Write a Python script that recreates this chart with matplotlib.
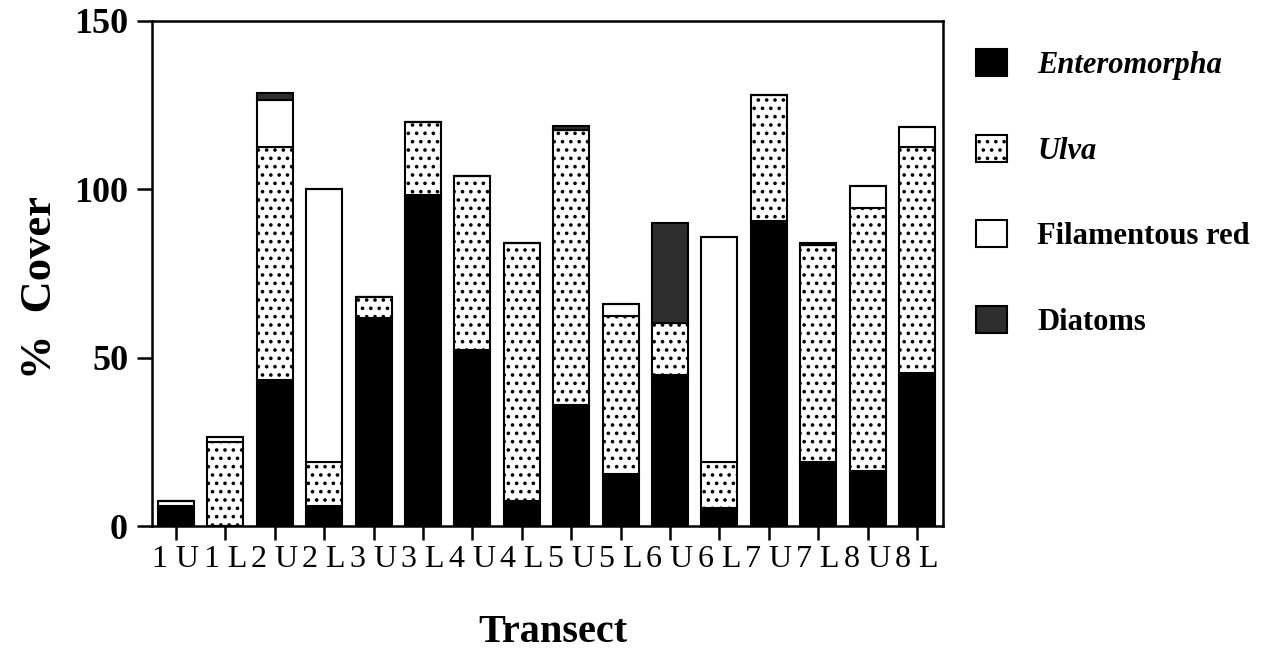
import matplotlib
matplotlib.use("Agg")
import matplotlib.pyplot as plt
import numpy as np

# Data (% cover per transect, stacked)
transects = ["1 U", "1 L", "2 U", "2 L", "3 U", "3 L", "4 U", "4 L",
             "5 U", "5 L", "6 U", "6 L", "7 U", "7 L", "8 U", "8 L"]
enteromorpha = [6, 0, 43.5, 6, 62, 98.5, 52.5, 7.5, 36, 15.5, 45, 5.5, 90.5, 19, 16.5, 45.5]
ulva = [1.5, 25, 69, 13, 6, 21.5, 51.5, 76.5, 81.5, 47, 15.5, 13.5, 37.5, 64.5, 78, 67]
filamentous_red = [0, 1.5, 14, 81, 0, 0, 0, 0, 0, 3.5, 0, 67, 0, 0, 6.5, 6]
diatoms = [0, 0, 2, 0, 0, 0, 0, 0, 1.2, 0, 29.5, 0, 0, 0.7, 0, 0]

yticks = [0, 50, 100, 150]

plt.rcParams['font.family'] = ['Liberation Serif', 'DejaVu Serif']
plt.rcParams['hatch.linewidth'] = 1.4

fig = plt.figure(figsize=(12.62, 6.55), dpi=100)
ax = fig.add_axes([0.1202, 0.1962, 0.6268, 0.7718])

x = np.arange(len(transects))
w = 0.73
lw = 1.5

e = np.array(enteromorpha)
u = np.array(ulva)
f = np.array(filamentous_red)
d = np.array(diatoms)

b1 = ax.bar(x, e, w, color='black', edgecolor='black', linewidth=lw, label='Enteromorpha')
b2 = ax.bar(x, u, w, bottom=e, color='white', edgecolor='black', linewidth=lw,
            hatch='..', label='Ulva')
b3 = ax.bar(x, f, w, bottom=e + u, color='white', edgecolor='black', linewidth=lw,
            label='Filamentous red')
b4 = ax.bar(x, d, w, bottom=e + u + f, color='#2e2e2e', edgecolor='black', linewidth=lw,
            label='Diatoms')

ax.set_xlim(-0.49, 15.52)
ax.set_ylim(0, 150)
ax.set_yticks(yticks)
ax.set_yticklabels([str(v) for v in yticks], fontsize=26, fontweight='bold')
ax.set_xticks(x)
ax.set_xticklabels(transects, fontsize=23)

for s in ax.spines.values():
    s.set_linewidth(1.8)
ax.tick_params(axis='y', length=11, width=1.8, pad=6)
ax.tick_params(axis='x', length=10, width=1.8, pad=3)

fig.text(40 / 1262, 1 - 288 / 655, '%  Cover', rotation=90, ha='center', va='center',
         fontsize=32, fontweight='bold')
fig.text(553 / 1262, 1 - 633 / 655, 'Transect', ha='center', va='center',
         fontsize=29, fontweight='bold')

leg = fig.legend(handles=[b1, b2, b3, b4], loc='upper left',
                 bbox_to_anchor=(976 / 1262, 1 - 49 / 655), frameon=False,
                 fontsize=22, handlelength=1.0, handleheight=1.0,
                 handletextpad=1.0, labelspacing=1.78, borderaxespad=0, borderpad=0)
texts = leg.get_texts()
texts[0].set_fontstyle('italic')
texts[0].set_fontweight('bold')
texts[1].set_fontstyle('italic')
texts[1].set_fontweight('bold')
texts[2].set_fontweight('bold')
texts[3].set_fontweight('bold')

fig.savefig('out.png', dpi=100)
